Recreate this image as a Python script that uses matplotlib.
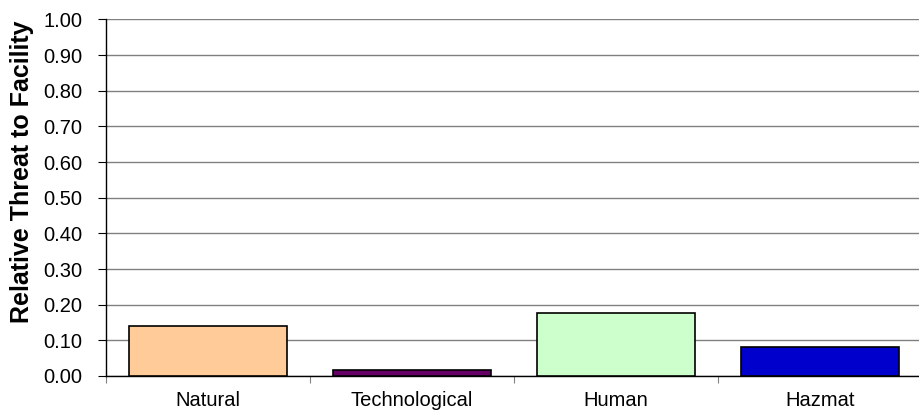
import matplotlib
matplotlib.use("Agg")
import matplotlib.pyplot as plt
import numpy as np

categories = ["Natural", "Technological", "Human", "Hazmat"]
threat = [0.14, 0.017, 0.176, 0.081]
colors = ["#FFCC99", "#660066", "#CCFFCC", "#0000CC"]

plt.rcParams["font.family"] = ["Liberation Sans", "DejaVu Sans"]

fig = plt.figure(figsize=(9.2, 4.13), dpi=100)
ax = fig.add_axes([0.1152, 0.0896, 0.887, 0.8632])

x = np.arange(len(categories))
ax.bar(x, threat, width=0.77, color=colors, edgecolor="black", linewidth=1.2, zorder=3)

ax.set_xlim(-0.5, len(categories) - 0.5)
ax.set_ylim(0, 1.0)
ax.set_yticks(np.arange(0, 1.01, 0.1))
ax.set_yticklabels([f"{v:.2f}" for v in np.arange(0, 1.01, 0.1)])
ax.yaxis.grid(True, color="#808080", linewidth=1.0, zorder=0)

# category labels in the middle, tick marks on the boundaries
ax.set_xticks(x)
ax.set_xticklabels(categories)
ax.set_xticks(np.arange(-0.5, len(categories) + 0.5, 1), minor=True)
ax.tick_params(axis="x", which="major", length=0, pad=11, labelsize=14.5)
ax.tick_params(axis="x", which="minor", length=5, width=0.8, direction="out", color="#808080")
ax.tick_params(axis="y", length=6, width=0.8, labelsize=14.5, pad=11)

for side in ["top", "right"]:
    ax.spines[side].set_visible(False)
ax.spines["left"].set_linewidth(1.0)
ax.spines["bottom"].set_linewidth(1.0)

ax.set_ylabel("Relative Threat to Facility", fontsize=18, fontweight="bold")
ax.yaxis.set_label_coords(-0.088, 0.572)

fig.savefig("out.png", dpi=100)
